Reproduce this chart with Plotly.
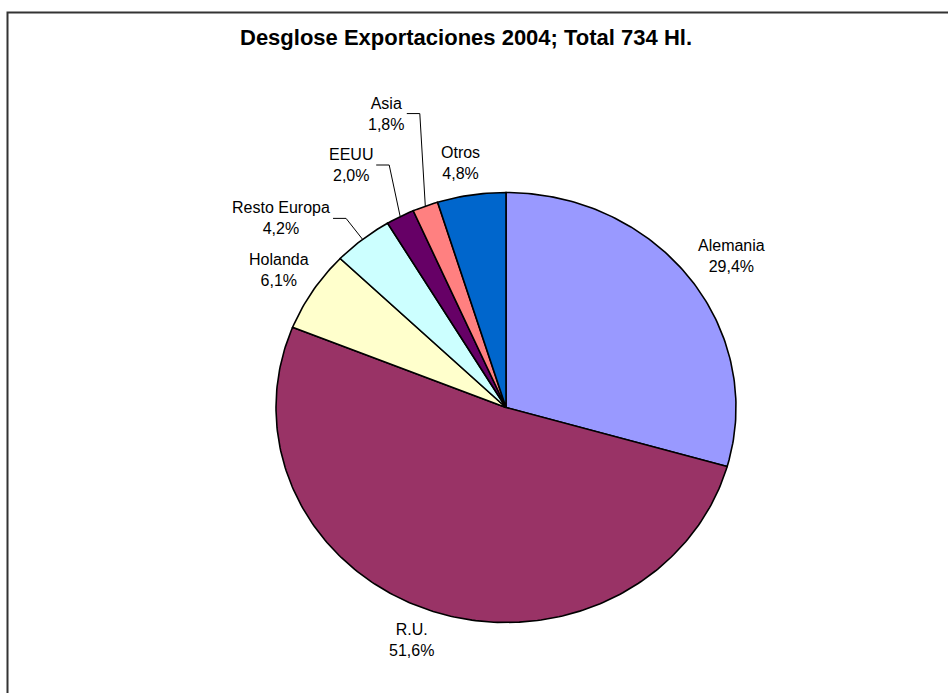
import numpy as np
import plotly.graph_objects as go

# Export breakdown 2004 (percent of total volume)
countries = ["Alemania", "R.U.", "Holanda", "Resto Europa", "EEUU", "Asia", "Otros"]
shares = [29.4, 51.6, 6.1, 4.2, 2.0, 1.8, 4.8]
colors = ["#9999FF", "#993366", "#FFFFCC", "#CCFFFF", "#660066", "#FF8080", "#0066CC"]
title_text = "Desglose Exportaciones 2004; Total 734 Hl."

# Canvas and pie geometry (pixel units on hidden axes)
W, H = 948, 693
CX, CY, RX, RY = 506, 407.5, 230, 215
FONT = "Arial, Liberation Sans, sans-serif"

# Label position relative to the rim point at the slice mid-angle (dx, dy in px)
label_offset = {
    "Alemania": (41.5, -22),
    "R.U.": (-19.5, 29),
    "Holanda": (-34, -21),
    "Resto Europa": (-81.6, -21),
    "EEUU": (-49, -51.6),
    "Asia": (-39.5, -92.6),
    "Otros": (-11, -31.5),
}
# Labels that get a leader line: half width of the text block (px)
leader_halfwidth = {"Resto Europa": 49, "EEUU": 22, "Asia": 18}


def rim(frac):
    theta = 2 * np.pi * frac
    return CX + RX * np.sin(theta), CY - RY * np.cos(theta)


fig = go.Figure()
total = sum(shares)
cum = np.concatenate([[0.0], np.cumsum(shares) / total])

annotations = []
for i, (name, val, col) in enumerate(zip(countries, shares, colors)):
    f0, f1 = cum[i], cum[i + 1]
    fr = np.linspace(f0, f1, max(8, int((f1 - f0) * 400)))
    xs, ys = rim(fr)
    xs = np.concatenate([[CX], xs, [CX]])
    ys = np.concatenate([[CY], ys, [CY]])
    fig.add_trace(go.Scatter(
        x=xs, y=ys, mode="lines", fill="toself", fillcolor=col,
        line=dict(color="black", width=1.6), hoverinfo="skip", showlegend=False,
    ))

    mx, my = rim((f0 + f1) / 2)
    dx, dy = label_offset[name]
    lx, ly = mx + dx, my + dy
    pct = f"{val:.1f}".replace(".", ",") + "%"
    annotations.append(dict(
        x=lx, y=ly, xref="x", yref="y", text=f"{name}<br>{pct}",
        showarrow=False, font=dict(family=FONT, size=16, color="black"),
        xanchor="center", yanchor="middle", align="center",
    ))
    if name in leader_halfwidth:
        right = lx + leader_halfwidth[name]
        fig.add_trace(go.Scatter(
            x=[right + 3, right + 16, mx], y=[ly, ly, my], mode="lines",
            line=dict(color="black", width=1), hoverinfo="skip", showlegend=False,
        ))

annotations.append(dict(
    x=466, y=37, xref="x", yref="y", text=f"<b>{title_text}</b>",
    showarrow=False, font=dict(family=FONT, size=22, color="black"),
    xanchor="center", yanchor="middle",
))

fig.update_layout(
    width=W, height=H,
    margin=dict(l=0, r=0, t=0, b=0),
    paper_bgcolor="white", plot_bgcolor="white",
    xaxis=dict(range=[0, W], visible=False, fixedrange=True),
    yaxis=dict(range=[H, 0], visible=False, fixedrange=True),
    annotations=annotations,
    shapes=[dict(type="rect", xref="x", yref="y", x0=7.5, y0=12.5, x1=W + 20, y1=H + 20,
                 line=dict(color="#333333", width=2), fillcolor="rgba(0,0,0,0)", layer="below")],
)

fig.write_html("out.html", config={"displayModeBar": False})
